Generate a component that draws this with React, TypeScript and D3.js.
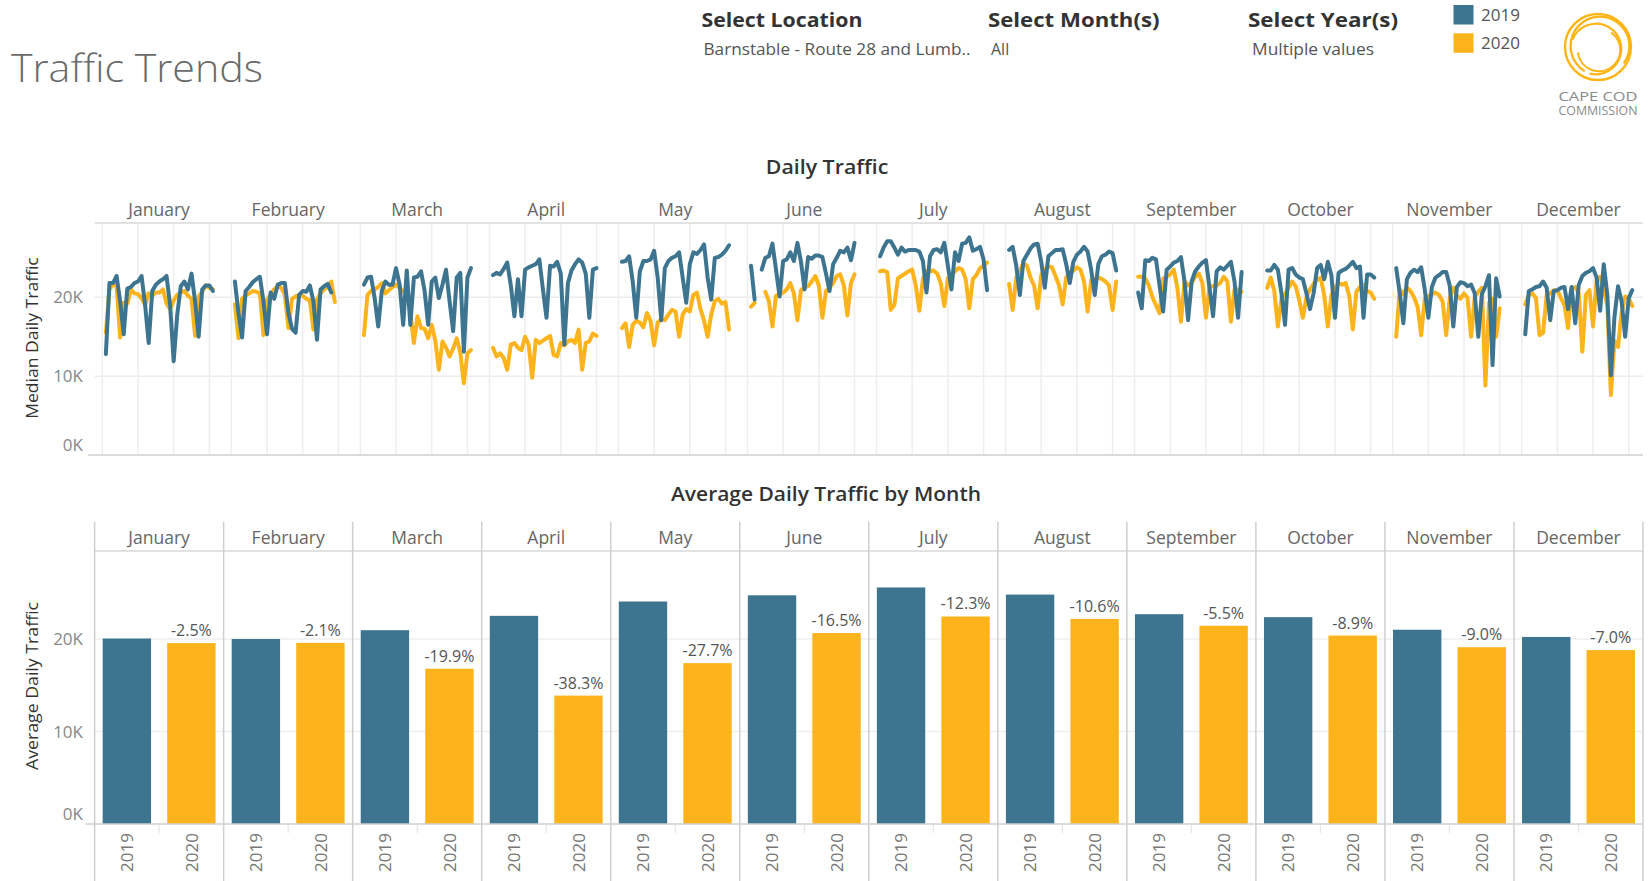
import React from "react";
import * as d3 from "d3";

const months = ["January","February","March","April","May","June","July","August","September","October","November","December"];
const years = ["2019","2020"];
const yTicks = [0, 10, 20];

// Median daily traffic (thousands), day 1..N of each month
const daily2019: (number | null)[][] = [
  [12.8,21.8,21.8,22.7,19.5,15.3,21.1,21.3,21.8,22.0,22.7,19.0,14.2,20.8,21.6,22.0,22.3,22.7,19.0,11.9,17.8,21.4,22.0,21.0,23.0,19.5,15.0,21.0,21.5,21.5,20.8],
  [22.0,18.0,14.9,20.8,21.3,21.9,22.3,22.6,19.5,15.3,20.6,19.8,21.6,21.8,21.8,18.0,16.0,15.5,20.3,20.8,20.7,21.5,19.5,14.6,21.0,21.4,21.7,20.6],
  [21.6,22.5,22.6,19.9,16.3,20.8,22.0,21.6,21.6,23.7,21.6,16.5,23.4,16.5,22.5,22.6,23.3,20.8,16.5,22.0,22.5,19.9,21.6,23.5,19.5,15.7,22.5,23.1,13.1,22.5,23.7],
  [22.8,23.1,22.9,23.6,24.4,21.5,17.6,22.3,17.6,23.5,23.8,24.0,24.2,24.8,21.0,17.4,24.0,23.9,24.5,23.0,14.0,21.8,23.4,24.2,24.8,24.4,23.0,17.4,23.5,23.7],
  [24.5,24.6,25.2,22.0,17.4,23.3,24.6,24.6,24.8,25.9,22.5,17.1,23.7,24.6,25.0,25.2,25.7,22.5,19.3,24.2,25.7,25.5,26.0,26.7,22.5,19.7,25.0,25.1,25.4,25.9,26.6],
  [24.0,19.7,null,23.5,25.0,25.2,26.8,23.5,20.1,24.6,24.8,25.7,24.6,26.9,24.5,21.0,25.1,24.9,25.3,25.3,25.1,23.0,20.8,24.2,25.0,25.9,25.7,26.3,24.7,26.9],
  [25.2,26.3,27.1,27.1,26.3,25.4,26.3,25.8,26.0,26.0,26.0,25.8,24.6,20.6,25.2,26.0,26.1,25.7,26.9,24.0,21.0,25.7,24.6,26.8,26.9,27.6,25.9,26.1,26.4,24.8,20.9],
  [26.0,26.4,24.0,20.3,24.6,25.4,26.2,26.7,26.8,24.5,21.2,25.2,25.6,26.0,26.0,26.1,24.2,21.8,24.5,25.4,25.8,26.4,25.8,23.5,20.3,24.2,25.2,25.4,25.8,25.6,23.4],
  [20.6,18.6,24.7,24.6,25.0,24.8,21.5,18.2,23.5,23.9,24.4,24.6,25.1,22.0,17.1,22.0,23.3,23.9,24.4,24.7,21.2,17.6,23.3,23.8,23.5,24.0,24.5,22.0,17.4,23.2],
  [23.4,23.4,24.1,23.5,20.5,16.5,23.5,23.7,22.9,22.5,22.3,20.5,18.5,20.5,23.7,24.1,22.3,24.5,22.8,17.4,23.1,23.4,23.6,24.0,24.5,23.7,23.9,17.4,22.9,22.9,22.5],
  [23.7,20.5,16.7,22.3,23.1,23.5,23.2,23.8,21.0,17.4,21.3,22.5,22.8,23.2,23.2,21.5,16.3,21.3,21.9,21.8,21.4,21.6,20.5,15.0,20.4,21.4,22.8,11.4,22.4,20.1],
  [15.3,20.8,21.0,21.3,21.4,22.0,21.2,17.1,20.8,20.9,21.2,21.3,18.5,21.3,16.7,21.6,22.7,23.1,23.3,23.7,22.5,18.3,24.2,20.3,10.1,17.5,21.4,19.5,15.0,19.9,20.9],
];

const daily2020: (number | null)[][] = [
  [15.5,21.0,21.6,21.5,14.9,19.3,19.2,21.0,20.5,20.4,19.9,19.0,20.5,20.2,20.6,20.6,21.0,19.2,18.5,19.6,20.3,20.6,20.8,20.2,19.8,15.1,20.1,20.7,21.5,21.2,21.0],
  [19.1,14.8,19.8,20.2,20.5,20.8,20.7,20.5,15.2,19.7,20.3,21.0,21.4,21.2,20.3,16.1,19.8,20.1,20.3,20.2,19.8,19.6,15.9,19.7,20.5,21.0,21.3,22.0,19.4],
  [15.2,20.3,20.8,21.0,21.3,21.8,20.5,20.9,21.3,21.6,21.2,20.8,20.5,18.0,14.2,17.6,16.1,16.0,14.8,16.5,14.5,10.8,14.4,13.6,12.5,13.5,14.8,13.0,9.1,12.9,13.3],
  [13.6,12.5,12.9,12.3,10.8,14.0,14.2,13.6,13.3,15.0,14.0,9.8,14.6,14.2,14.5,14.8,15.1,12.7,12.5,14.2,13.9,14.4,14.6,14.2,15.9,10.8,14.2,14.4,15.4,15.1],
  [16.1,16.7,13.7,16.5,17.0,16.8,16.2,18.0,17.0,13.9,16.8,17.2,17.1,17.8,18.4,18.2,15.0,17.8,18.5,18.2,20.3,20.6,18.5,17.0,15.0,17.8,19.5,19.8,19.2,19.4,15.9],
  [18.8,19.3,null,null,20.7,19.5,16.3,20.2,20.4,20.6,21.0,21.8,20.5,17.1,20.9,21.3,21.4,22.0,22.7,21.5,17.4,20.8,21.2,21.8,22.7,22.9,21.5,17.7,21.8,22.9],
  [23.3,23.4,23.2,18.4,19.0,22.4,22.7,23.0,23.3,23.5,21.5,18.3,22.3,23.3,23.3,23.4,23.0,21.8,18.9,22.4,22.8,23.3,23.7,23.5,22.3,18.6,22.3,22.8,23.7,24.0,24.4],
  [21.7,18.4,22.5,23.3,24.3,24.0,22.5,21.5,18.6,22.8,23.5,23.9,23.8,22.7,21.5,19.1,22.5,23.1,23.4,23.8,23.5,22.0,18.2,22.2,22.3,22.5,22.3,22.0,21.5,18.4,22.0],
  [22.6,22.6,22.4,21.5,20.0,19.0,18.0,22.4,22.6,22.9,23.5,21.2,16.9,22.0,21.5,21.8,22.6,23.0,21.8,17.4,21.4,21.4,21.5,21.8,22.6,22.0,16.9,21.0,21.0,20.7],
  [21.2,22.5,20.8,16.3,19.8,20.4,21.2,22.0,21.4,19.6,17.4,20.0,21.0,21.7,22.2,22.5,20.2,16.3,20.3,21.2,21.8,21.6,21.8,20.2,15.9,20.7,21.3,21.6,20.8,20.6,19.8],
  [15.0,21.0,20.4,21.2,20.8,20.0,18.8,15.2,19.8,20.1,20.4,20.6,20.3,19.5,15.2,19.9,21.2,20.2,19.8,20.5,19.9,15.0,20.0,20.7,21.2,8.8,19.3,19.8,15.0,18.6],
  [19.1,20.3,20.5,19.9,15.2,15.5,20.3,20.5,20.9,20.9,19.9,19.0,16.1,21.1,21.3,20.5,13.1,20.3,20.9,16.3,22.2,22.6,21.0,19.0,7.6,14.5,13.7,18.0,20.1,19.9,18.9],
];

// Average daily traffic by month (thousands)
const avg2019 = [20.05,20.0,20.95,22.5,24.05,24.72,25.57,24.8,22.68,22.36,21.0,20.22];
const avg2020 = [19.55,19.58,16.78,13.88,17.39,20.64,22.43,22.17,21.43,20.37,19.11,18.80];
const pctLabels = ["-2.5%","-2.1%","-19.9%","-38.3%","-27.7%","-16.5%","-12.3%","-10.6%","-5.5%","-8.9%","-9.0%","-7.0%"];

const C19 = "#3d7590";
const C20 = "#fdb31b";
const FONT = "'Open Sans', Lato, sans-serif";

export default function App() {
  const W = 1650, H = 881;
  const left = 94.6, right = 1643;
  const panel = d3.scaleBand<string>().domain(months).range([left, right]).padding(0);
  const pw = panel.bandwidth();

  // ---- top chart
  const topY = d3.scaleLinear().domain([0, 29.42]).range([455, 223]);
  const dayX = d3.scaleLinear().domain([-2.16, 34.0]).range([0, pw]);
  const dayTicks = [0, 10, 20, 30];
  const mkLine = (ox: number) =>
    d3.line<number | null>()
      .defined((v) => v != null)
      .x((_, i) => ox + dayX(i + 1))
      .y((v) => topY(v as number));

  // ---- bottom chart
  const botY = d3.scaleLinear().domain([0, 29.51]).range([824, 551]);
  const yearX = d3.scaleBand<string>().domain(years).range([0, pw]).paddingInner(0.25).paddingOuter(0.125);
  const slot = d3.scaleBand<string>().domain(years).range([0, pw]).padding(0);

  const fmtK = (v: number) => `${v}K`;

  return (
    <svg width={W} height={H} style={{ position: "absolute", left: 0, top: 0, background: "#fff" }} fontFamily={FONT}>
      {/* Header */}
      <text x={11} y={82} fontSize={39} fontWeight={300} fill="#6b6b6b" textLength={252} lengthAdjust="spacingAndGlyphs">Traffic Trends</text>

      <text x={701.5} y={26.5} fontSize={20} fontWeight={700} fill="#333" textLength={161} lengthAdjust="spacingAndGlyphs">Select Location</text>
      <text x={988} y={26.5} fontSize={20} fontWeight={700} fill="#333" textLength={171.5} lengthAdjust="spacingAndGlyphs">Select Month(s)</text>
      <text x={1248} y={26.5} fontSize={20} fontWeight={700} fill="#333" textLength={150} lengthAdjust="spacingAndGlyphs">Select Year(s)</text>

      <text x={703.5} y={54.5} fontSize={16} fill="#555" textLength={267} lengthAdjust="spacingAndGlyphs">Barnstable - Route 28 and Lumb..</text>
      <text x={991} y={54.5} fontSize={16} fill="#555">All</text>
      <text x={1252} y={54.5} fontSize={16} fill="#555" textLength={122} lengthAdjust="spacingAndGlyphs">Multiple values</text>

      {years.map((y, i) => (
        <g key={y}>
          <rect x={1453.5} y={5 + i * 28.3} width={20} height={19.5} fill={i === 0 ? C19 : C20} />
          <text x={1481} y={15 + i * 28.3} dy="0.36em" fontSize={17} fill="#555">{y}</text>
        </g>
      ))}

      {/* Logo */}
      <g fill="none" stroke="#fdb515" strokeLinecap="round">
        <circle cx={1598} cy={47} r={33} strokeWidth={2.4} />
        <path d={d3.arc()({ innerRadius: 28.3, outerRadius: 30.6, startAngle: -2.6, endAngle: 2.2 }) as string} transform="translate(1600,46)" fill="#fdb515" stroke="none" />
        <path d={d3.arc()({ innerRadius: 24.3, outerRadius: 26.4, startAngle: -1.2, endAngle: 3.4 }) as string} transform="translate(1596,49)" fill="#fdb515" stroke="none" />
        <path d={d3.arc()({ innerRadius: 20.3, outerRadius: 22.2, startAngle: 0.6, endAngle: 4.6 }) as string} transform="translate(1599,50)" fill="#fdb515" stroke="none" />
      </g>
      <text x={1598} y={101} textAnchor="middle" fontSize={12.5} fill="#8a8a8a" textLength={79} lengthAdjust="spacingAndGlyphs">CAPE COD</text>
      <text x={1598} y={115} textAnchor="middle" fontSize={12} fill="#8a8a8a" textLength={79} lengthAdjust="spacingAndGlyphs">COMMISSION</text>

      {/* ===== Daily Traffic ===== */}
      <text x={827} y={167} dy="0.36em" textAnchor="middle" fontSize={20} fontWeight={600} fill="#333" textLength={122.5} lengthAdjust="spacingAndGlyphs">Daily Traffic</text>
      {months.map((m) => (
        <text key={"th" + m} x={(panel(m) as number) + pw / 2} y={210} dy="0.36em" textAnchor="middle" fontSize={17.5} fill="#666">{m}</text>
      ))}
      {/* gridlines */}
      {yTicks.filter((t) => t > 0).map((t) => (
        <line key={"tg" + t} x1={left} x2={right} y1={topY(t)} y2={topY(t)} stroke="#ececec" strokeWidth={1.5} />
      ))}
      {months.map((m) =>
        dayTicks.map((d) => (
          <line key={"tv" + m + d} x1={(panel(m) as number) + dayX(d)} x2={(panel(m) as number) + dayX(d)} y1={223} y2={455} stroke="#eeeeee" strokeWidth={1.5} />
        ))
      )}
      <line x1={left} x2={right} y1={223} y2={223} stroke="#d9d9d9" strokeWidth={1.5} />
      <line x1={88} x2={right} y1={455} y2={455} stroke="#cfcfcf" strokeWidth={1.5} />
      {yTicks.map((t) => (
        <text key={"tyl" + t} x={83} y={t === 0 ? topY(t) - 10 : topY(t)} dy="0.36em" textAnchor="end" fontSize={17} fill="#888">{fmtK(t)}</text>
      ))}
      <text transform={`translate(32,338) rotate(-90)`} textAnchor="middle" dy="0.36em" fontSize={17} fill="#333" textLength={161.5} lengthAdjust="spacingAndGlyphs">Median Daily Traffic</text>
      {/* lines: 2020 below, 2019 on top */}
      {months.map((m, i) => (
        <path key={"l20" + m} d={mkLine(panel(m) as number)(daily2020[i]) as string} fill="none" stroke={C20} strokeWidth={4} strokeLinejoin="round" strokeLinecap="round" />
      ))}
      {months.map((m, i) => (
        <path key={"l19" + m} d={mkLine(panel(m) as number)(daily2019[i]) as string} fill="none" stroke={C19} strokeWidth={4} strokeLinejoin="round" strokeLinecap="round" />
      ))}

      {/* ===== Average Daily Traffic by Month ===== */}
      <text x={826} y={494} dy="0.36em" textAnchor="middle" fontSize={20} fontWeight={600} fill="#333" textLength={310} lengthAdjust="spacingAndGlyphs">Average Daily Traffic by Month</text>
      {months.map((m) => (
        <text key={"bh" + m} x={(panel(m) as number) + pw / 2} y={538} dy="0.36em" textAnchor="middle" fontSize={17.5} fill="#666">{m}</text>
      ))}
      {yTicks.filter((t) => t > 0).map((t) => (
        <line key={"bg" + t} x1={left} x2={right} y1={botY(t)} y2={botY(t)} stroke="#efefef" strokeWidth={1.5} />
      ))}
      <line x1={left} x2={right} y1={551} y2={551} stroke="#d9d9d9" strokeWidth={1.5} />
      {/* year slot ticks */}
      {months.map((m) => (
        <line key={"ys" + m} x1={(panel(m) as number) + (slot("2020") as number)} x2={(panel(m) as number) + (slot("2020") as number)} y1={825} y2={833} stroke="#e6e6e6" strokeWidth={1.2} />
      ))}
      {/* bars */}
      {months.map((m, i) => {
        const px = panel(m) as number;
        return (
          <g key={"b" + m}>
            <rect x={px + (yearX("2019") as number)} width={yearX.bandwidth()} y={botY(avg2019[i])} height={botY(0) - botY(avg2019[i])} fill={C19} />
            <rect x={px + (yearX("2020") as number)} width={yearX.bandwidth()} y={botY(avg2020[i])} height={botY(0) - botY(avg2020[i])} fill={C20} />
            <text x={px + (yearX("2020") as number) + yearX.bandwidth() / 2} y={botY(avg2020[i]) - 7} textAnchor="middle" fontSize={16} fill="#555">{pctLabels[i]}</text>
            {years.map((y) => (
              <text key={y} transform={`translate(${px + (slot(y) as number) + slot.bandwidth() / 2},852.5) rotate(-90)`} textAnchor="middle" dy="0.36em" fontSize={17} fill="#777">{y}</text>
            ))}
          </g>
        );
      })}
      {/* panel dividers */}
      {months.map((m) => (
        <line key={"pd" + m} x1={panel(m) as number} x2={panel(m) as number} y1={521.7} y2={881} stroke="#cfcfcf" strokeWidth={1.5} />
      ))}
      <line x1={right} x2={right} y1={521.7} y2={881} stroke="#cfcfcf" strokeWidth={1.5} />
      <line x1={85.5} x2={right} y1={824} y2={824} stroke="#cfcfcf" strokeWidth={1.5} />
      {yTicks.map((t) => (
        <text key={"byl" + t} x={83} y={t === 0 ? botY(t) - 10.5 : botY(t)} dy="0.36em" textAnchor="end" fontSize={17} fill="#888">{fmtK(t)}</text>
      ))}
      <text transform={`translate(32,686) rotate(-90)`} textAnchor="middle" dy="0.36em" fontSize={17} fill="#333" textLength={168} lengthAdjust="spacingAndGlyphs">Average Daily Traffic</text>
    </svg>
  );
}
